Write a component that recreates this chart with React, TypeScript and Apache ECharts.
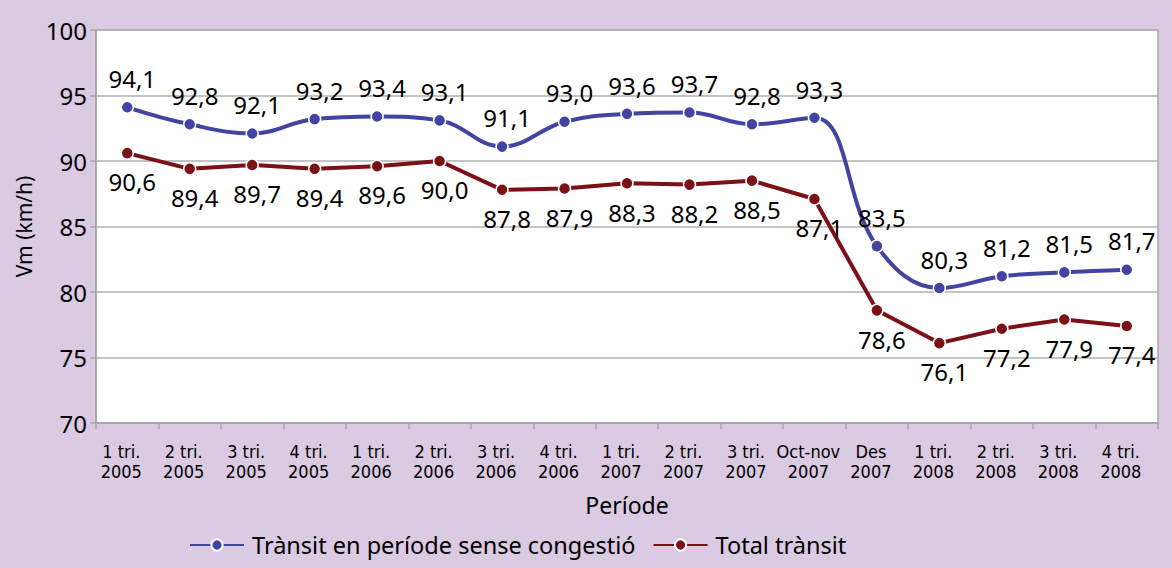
import React, { useEffect, useRef } from "react";
import * as echarts from "echarts";

const categories = [
  "1 tri.\n2005", "2 tri.\n2005", "3 tri.\n2005", "4 tri.\n2005",
  "1 tri.\n2006", "2 tri.\n2006", "3 tri.\n2006", "4 tri.\n2006",
  "1 tri.\n2007", "2 tri.\n2007", "3 tri.\n2007", "Oct-nov\n2007",
  "Des\n2007", "1 tri.\n2008", "2 tri.\n2008", "3 tri.\n2008", "4 tri.\n2008",
];
const freeFlow = [94.1, 92.8, 92.1, 93.2, 93.4, 93.1, 91.1, 93.0, 93.6, 93.7, 92.8, 93.3, 83.5, 80.3, 81.2, 81.5, 81.7];
const totalTraffic = [90.6, 89.4, 89.7, 89.4, 89.6, 90.0, 87.8, 87.9, 88.3, 88.2, 88.5, 87.1, 78.6, 76.1, 77.2, 77.9, 77.4];
const seriesNames = ["Trànsit en període sense congestió", "Total trànsit"];
const yTicks = { min: 70, max: 100, interval: 5 };

const FONT = "'Noto Sans', 'Open Sans', sans-serif";
const NARROW = "'Liberation Sans Narrow', 'DejaVu Sans Condensed', 'Roboto Condensed', 'Liberation Sans', sans-serif";
const BLUE = "#4244a2";
const RED = "#7b1116";

const fmt = (p: any) => Number(p.value).toFixed(1).replace(".", ",");

export default function App() {
  const ref = useRef<HTMLDivElement>(null);
  useEffect(() => {
    const chart = echarts.init(ref.current!, null, { renderer: "svg" });
    chart.setOption({
      animation: false,
      backgroundColor: "#dacae2",
      textStyle: { fontFamily: FONT },
      grid: {
        left: 96, right: 14, top: 30, bottom: 145,
        show: true, backgroundColor: "#ffffff", borderColor: "#a6a6a6", borderWidth: 1.5,
      },
      legend: {
        left: 184, top: 528,
        itemWidth: 54, itemHeight: 14, itemGap: 17,
        textStyle: { fontFamily: FONT, fontSize: 23.5, color: "#000", padding: [0, 0, 0, 3] },
        data: seriesNames,
      },
      xAxis: {
        type: "category",
        data: categories,
        boundaryGap: true,
        name: "Període",
        nameLocation: "middle",
        nameGap: 70,
        nameTextStyle: { fontFamily: FONT, fontSize: 23, color: "#000" },
        axisLine: { lineStyle: { color: "#a6a6a6", width: 1.5 } },
        axisTick: { show: true, length: 6, lineStyle: { color: "#a6a6a6", width: 1.5 } },
        axisLabel: {
          interval: 0, margin: 18, color: "#000",
          fontFamily: NARROW, fontSize: 18, lineHeight: 20,
          padding: [0, 12, 0, 0],
        },
      },
      yAxis: {
        type: "value",
        min: yTicks.min, max: yTicks.max, interval: yTicks.interval,
        name: "Vm (km/h)",
        nameLocation: "middle",
        nameGap: 62,
        nameTextStyle: { fontFamily: FONT, fontSize: 21, color: "#000" },
        axisLine: { show: true, lineStyle: { color: "#a6a6a6", width: 1.5 } },
        axisTick: { show: true, length: 6, lineStyle: { color: "#a6a6a6", width: 1.5 } },
        splitLine: { lineStyle: { color: "#b0b0b0", width: 1.5 } },
        axisLabel: { margin: 9, color: "#000", fontFamily: FONT, fontSize: 24 },
      },
      series: [
        {
          name: seriesNames[0], type: "line", data: freeFlow, smooth: 0.4,
          symbol: "circle", symbolSize: 12,
          lineStyle: { color: BLUE, width: 4 },
          itemStyle: { color: BLUE, borderColor: "#fff", borderWidth: 1.5 },
          label: { show: true, position: "top", distance: 10, offset: [5, 0], formatter: fmt, color: "#000", fontFamily: FONT, fontSize: 24 },
          z: 3,
        },
        {
          name: seriesNames[1], type: "line", data: totalTraffic, smooth: false,
          symbol: "circle", symbolSize: 12,
          lineStyle: { color: RED, width: 4 },
          itemStyle: { color: RED, borderColor: "#fff", borderWidth: 1.5 },
          label: { show: true, position: "bottom", distance: 10, offset: [5, 0], formatter: fmt, color: "#000", fontFamily: FONT, fontSize: 24 },
          z: 2,
        },
      ],
    });
    return () => chart.dispose();
  }, []);
  return (
    <div style={{ position: "absolute", left: 0, top: 0, width: 1172, height: 568 }}>
      <div ref={ref} style={{ width: 1172, height: 568 }} />
    </div>
  );
}
